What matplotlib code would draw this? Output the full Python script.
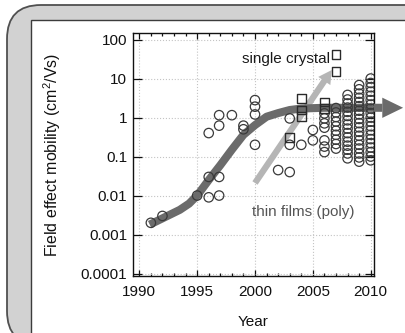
import matplotlib
matplotlib.use("Agg")
import matplotlib.pyplot as plt
from matplotlib.patches import FancyBboxPatch, Rectangle, Polygon, FancyArrowPatch
from matplotlib.ticker import MultipleLocator, NullLocator

plt.rcParams['font.family'] = ['Liberation Sans', 'DejaVu Sans']

# thin films (poly), open circles, sparse early years
early_year = [1991, 1992, 1995, 1996, 1996, 1996, 1996.9, 1996.9, 1996.9, 1996.9,
              1998, 1999, 1999, 2000, 2000, 2000, 2000, 2002, 2003, 2003, 2003,
              2004, 2005, 2005]
early_mob = [0.002, 0.003, 0.01, 0.009, 0.03, 0.4, 0.01, 0.03, 0.62, 1.15,
             1.15, 0.5, 0.62, 0.2, 1.2, 1.9, 2.8, 0.045, 0.04, 0.2, 0.95,
             0.2, 0.26, 0.48]

# dense columns of thin-film results
film_2006 = [1.28, 0.95, 0.71, 0.55, 0.26, 0.18, 0.13]
film_2007 = [1.75, 1.35, 1.03, 0.79, 0.6, 0.46, 0.36, 0.27, 0.21, 0.16]
film_2008 = [3.8, 2.9, 2.3, 1.8, 1.4, 1.1, 0.85, 0.66, 0.52, 0.4, 0.31, 0.24,
             0.19, 0.15, 0.12, 0.09]
film_2009 = [6.8, 5.3, 4.1, 3.2, 2.5, 1.95, 1.5, 1.2, 0.92, 0.72, 0.56, 0.43,
             0.34, 0.26, 0.2, 0.16, 0.12, 0.095, 0.074]
film_2010 = [10, 7.7, 6, 4.6, 3.6, 2.8, 2.15, 1.7, 1.3, 1.0, 0.78, 0.6, 0.47,
             0.36, 0.28, 0.22, 0.17, 0.13, 0.1, 0.08]

# single crystal, open squares
crystal_year = [2003, 2004, 2004, 2004, 2006, 2006, 2007, 2007]
crystal_mob = [0.31, 3.1, 1.56, 1.05, 2.5, 1.7, 42, 15.5]

# hand-drawn guide arrows
trend_year = [1990.9, 1992, 1993.5, 1994.3, 1995, 1996, 1997, 1998, 1999, 2000,
              2001, 2002, 2003, 2004, 2006, 2011.0]
trend_mob = [0.0018, 0.0026, 0.0043, 0.0062, 0.01, 0.025, 0.06, 0.15, 0.36, 0.64,
             1.05, 1.3, 1.56, 1.7, 1.78, 1.78]
crystal_arrow_year = [2000.0, 2006.63]
crystal_arrow_mob = [0.021, 16.5]

xtick_years = [1990, 1995, 2000, 2005, 2010]
ytick_vals = [1e-4, 1e-3, 1e-2, 1e-1, 1, 10, 100]
ytick_labels = ['0.0001', '0.001', '0.01', '0.1', '1', '10', '100']

film_cols = {2006: film_2006, 2007: film_2007, 2008: film_2008,
             2009: film_2009, 2010: film_2010}
film_x = list(early_year)
film_y = list(early_mob)
for yr, vals in film_cols.items():
    film_x += [yr] * len(vals)
    film_y += vals

W, H = 406, 333
fig = plt.figure(figsize=(W / 100, H / 100), dpi=100)

# scanned rounded frame behind the plot
bg = fig.add_axes([0, 0, 1, 1], zorder=-1)
bg.set_xlim(0, W); bg.set_ylim(H, 0); bg.axis('off')
bg.add_patch(FancyBboxPatch((7, 5), 460, 340, boxstyle="round,pad=0,rounding_size=34",
                            fc="#d2d2d2", ec="#505050", lw=1.3))
bg.add_patch(Rectangle((31, 20), 460, 400, fc="white", ec="#3c3c3c", lw=1.0))

l, r, t, b = 132.7, 374.3, 33.3, 275.5
ax = fig.add_axes([l / W, 1 - b / H, (r - l) / W, (b - t) / H])
ax.patch.set_alpha(0)
ax.set_yscale('log')
ax.set_xlim(1989.43, 2010.31)
ax.set_ylim(10 ** -4.05, 10 ** 2.16)

ax.set_xticks(xtick_years)
ax.xaxis.set_minor_locator(MultipleLocator(1))
ax.set_yticks(ytick_vals)
ax.set_yticklabels(ytick_labels)
ax.yaxis.set_minor_locator(NullLocator())
ax.tick_params(which='both', direction='in', top=True, right=True,
               labelsize=11, colors='#111111', width=0.9)
ax.tick_params(axis='x', which='major', length=4.5, pad=7)
ax.tick_params(axis='x', which='minor', length=2.3)
ax.tick_params(axis='y', which='major', length=6.5, pad=4)
for s in ax.spines.values():
    s.set_linewidth(1.0); s.set_color('#111111')
ax.grid(True, which='major', color='#c4c4c4', ls=':', lw=0.8)

# guide arrows
ax.add_patch(FancyArrowPatch((crystal_arrow_year[0], crystal_arrow_mob[0]),
                             (crystal_arrow_year[1], crystal_arrow_mob[1]),
                             arrowstyle='simple,head_length=0.95,head_width=1.05,tail_width=0.45',
                             mutation_scale=10, fc='#b5b5b5', ec='none',
                             shrinkA=0, shrinkB=0, zorder=2))
ax.plot(trend_year, trend_mob, color='#6b6b6b', lw=5.8, solid_capstyle='butt',
        solid_joinstyle='round', zorder=3, clip_on=False)
x0, y0 = trend_year[-1], trend_mob[-1]
ax.add_patch(Polygon([(x0, y0 * 10 ** 0.26), (x0, y0 / 10 ** 0.26), (x0 + 1.8, y0)],
                     closed=True, fc='#6b6b6b', ec='none', zorder=3, clip_on=False))

ax.scatter(film_x, film_y, s=46, facecolors='none', edgecolors='#3a3a3a',
           linewidths=0.9, zorder=4)
ax.scatter(crystal_year, crystal_mob, marker='s', s=40, facecolors='none',
           edgecolors='#2a2a2a', linewidths=1.0, zorder=4)

ax.text(2006.5, 31.6, 'single crystal', ha='right', va='center', fontsize=11,
        color='#1a1a1a', zorder=5)
ax.text(1999.7, 0.0038, 'thin films (poly)', ha='left', va='center', fontsize=11,
        color='#555555', zorder=5)

ax.set_ylabel(r'Field effect mobility (cm$\mathregular{^2}$/Vs)', fontsize=11.5,
              color='#111111')
ax.yaxis.set_label_coords(-0.29, 0.5)
ax.set_xlabel('Year', fontsize=11, color='#111111')
ax.xaxis.set_label_coords(0.5, -0.163)

fig.savefig('out.png', dpi=100)
